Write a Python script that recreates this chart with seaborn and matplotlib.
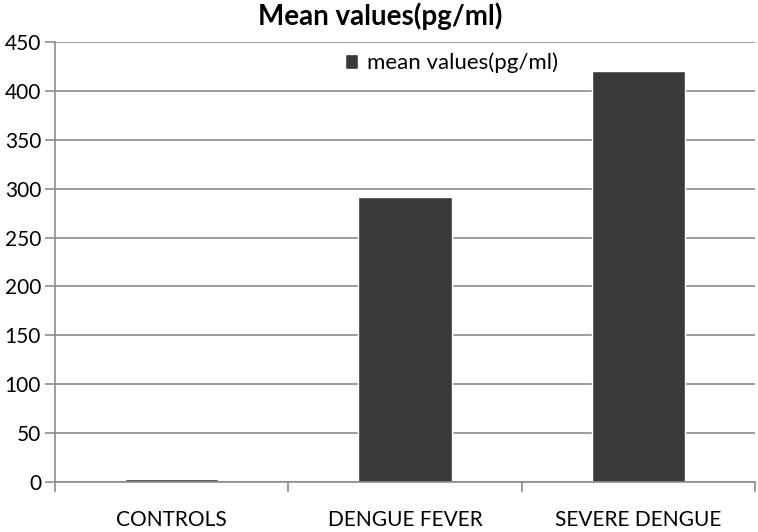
import matplotlib
matplotlib.use("Agg")
import matplotlib.pyplot as plt
import seaborn as sns
import pandas as pd
import numpy as np

categories = ["CONTROLS", "DENGUE FEVER", "SEVERE DENGUE"]
values = [3, 291, 420]
series_name = "mean values(pg/ml)"
yticks = [0, 50, 100, 150, 200, 250, 300, 350, 400, 450]

sns.set_theme(style="white")
plt.rcParams['font.family'] = ['Lato', 'DejaVu Sans']

df = pd.DataFrame({"category": categories, "value": values, "series": series_name})

fig = plt.figure(figsize=(7.58, 5.32), dpi=100)
ax = fig.add_axes([55/758, 1 - 482/532, 700/758, 440/532])

sns.barplot(data=df, x="category", y="value", hue="series", palette=["#393939"],
            width=0.4, ax=ax, saturation=1, legend=True)

ax.set_xlim(-0.5, 2.5)
ax.set_ylim(0, 450)
ax.set_yticks(yticks)
ax.set_yticklabels([str(t) for t in yticks], fontsize=15, color="black")
ax.yaxis.grid(True, color="#8c8c8c", linewidth=1.2)
ax.set_axisbelow(True)
ax.set_xlabel("")
ax.set_ylabel("")
ax.set_xticks([0, 1, 2])
ax.set_xticklabels(categories, fontsize=15, color="black")
ax.tick_params(axis="x", length=0, pad=20)
ax.tick_params(axis="y", length=7, width=1.2, color="#8c8c8c", direction="out", pad=3, left=True)
ax.set_xticks([-0.5, 0.5, 1.5, 2.5], minor=True)
ax.tick_params(axis="x", which="minor", length=7, width=1.2, color="#8c8c8c", direction="out", bottom=True)

for s in ["top", "right"]:
    ax.spines[s].set_visible(False)
for s in ["left", "bottom"]:
    ax.spines[s].set_color("#8c8c8c")
    ax.spines[s].set_linewidth(1.2)

leg = ax.legend(loc="center left", bbox_to_anchor=((345 - 55) / 700, 1 - (63 - 42) / 440),
                frameon=False, borderaxespad=0, borderpad=0,
                fontsize=16, handlelength=0.6, handleheight=0.6, handletextpad=0.4)
for t in leg.get_texts():
    t.set_color("black")

fig.suptitle("Mean values(pg/ml)", x=380/758, y=1 - 2/532, fontsize=20, fontweight="bold",
             va="top", color="black")

fig.savefig("out.png", dpi=100)
